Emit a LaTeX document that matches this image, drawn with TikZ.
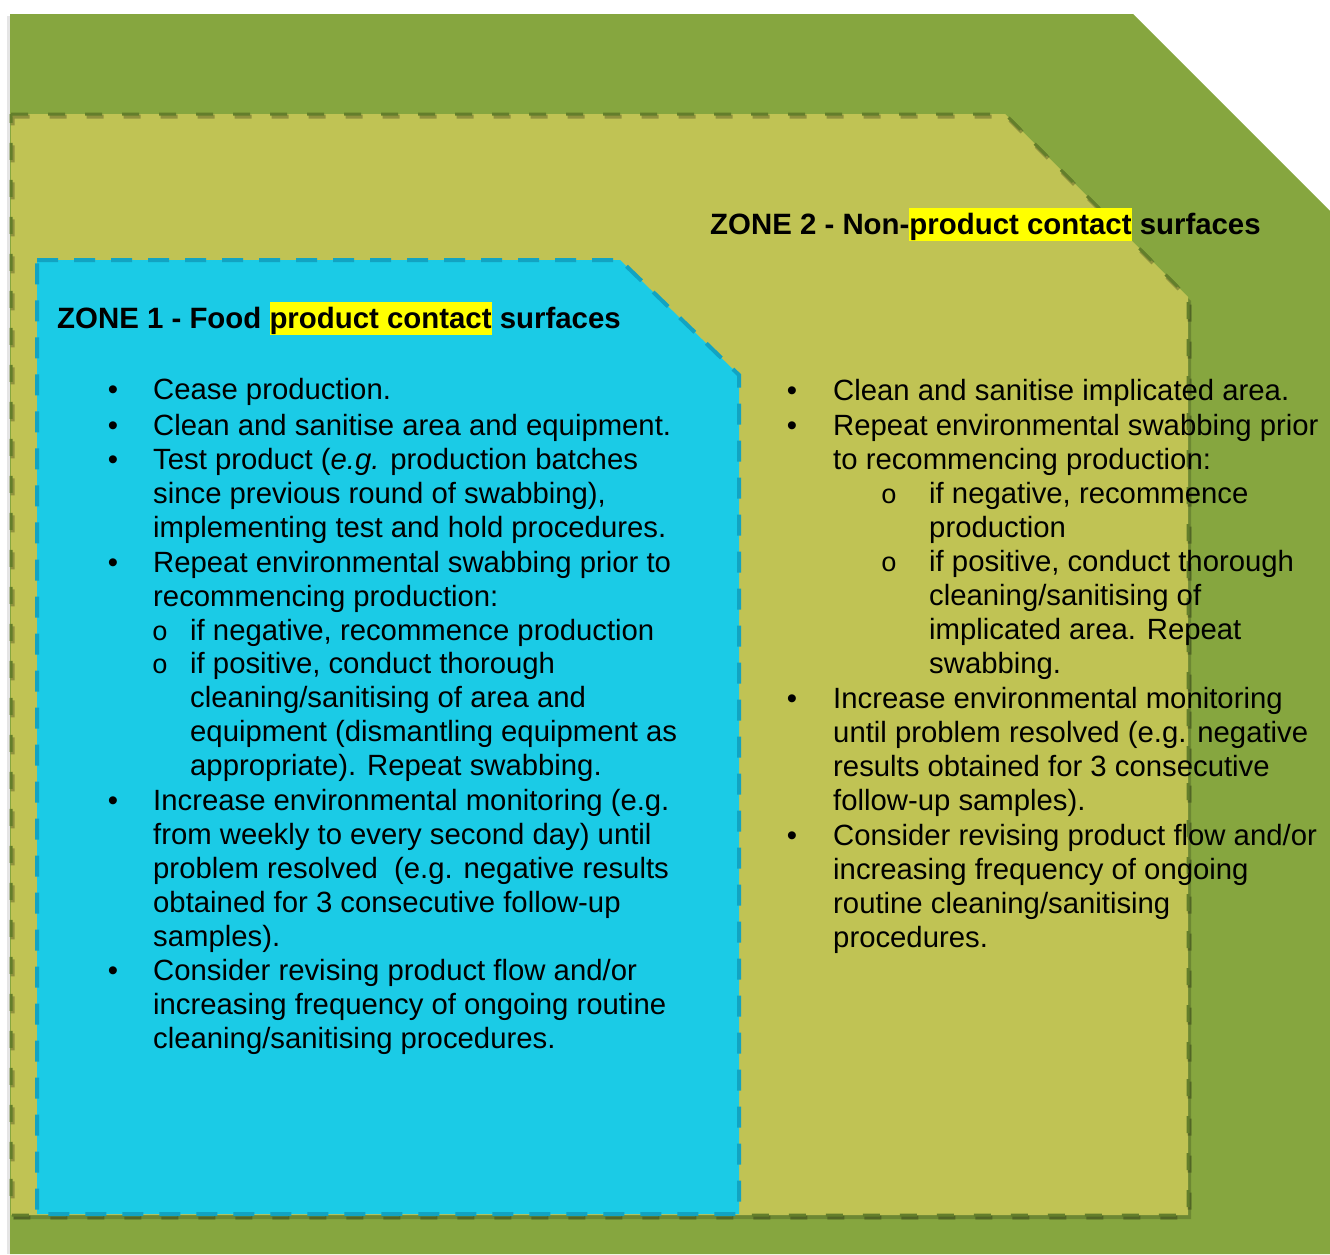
\documentclass[tikz,border=0pt]{standalone}
\usepackage{fontspec}
\setmainfont{Liberation Sans}
\newfontfamily\monobullet{Liberation Mono}

\definecolor{outergreen}{HTML}{86A63F}
\definecolor{zonetwofill}{HTML}{C0C354}
\definecolor{zonetwoline}{HTML}{637E2B}
\definecolor{zoneonefill}{HTML}{1BCBE6}
\definecolor{zoneoneline}{HTML}{12A3C2}
\definecolor{hlyellow}{HTML}{FFFF00}

% yellow text highlight with a fixed line-height band
\newcommand\hlt[1]{{\setlength{\fboxsep}{0pt}\colorbox{hlyellow}{\rule[-7pt]{0pt}{33pt}#1}}}
% stacked lines whose baseline is the first line
\newcommand\lines[1]{\begin{tabular}[t]{@{}l@{}}#1\end{tabular}}

\tikzset{
  bodyfont/.style={font=\fontsize{29.3}{34}\selectfont},
  txt/.style={bodyfont, anchor=base west, inner sep=0pt},
  ttl/.style={anchor=base west, inner sep=0pt, font=\fontsize{29.4}{34}\selectfont\bfseries},
  blt/.style={bodyfont, anchor=base, inner sep=0pt},
  subblt/.style={anchor=base, inner sep=0pt, font=\fontsize{27}{34}\selectfont\monobullet},
  zonetwoedge/.style={draw=zonetwoline, line width=3pt, dash pattern=on 17pt off 20pt},
  zoneoneedge/.style={draw=zoneoneline, line width=4pt, dash pattern=on 21pt off 16pt},
}

\begin{document}
\begin{tikzpicture}[x=1pt,y=-1pt]
\useasboundingbox (0,0) rectangle (1330,1254);

% outer band
\fill[black,opacity=.10] (7,16) rectangle (10,1254);
\fill[outergreen] (10,14) -- (1133,14) -- (1330,211) -- (1330,1254) -- (10,1254) -- cycle;

% zone 2 area with its drop shadow
\fill[black,opacity=.18] (14,118) -- (1007,118) -- (1191,301) -- (1191,1219) -- (14,1219) -- cycle;
\fill[zonetwofill] (11,114) -- (1005,114) -- (1188,297) -- (1188,1215) -- (11,1215) -- cycle;
\draw[zonetwoedge, draw=black, opacity=.25, line width=4pt, shift={(1.5pt,-2.5pt)}]
  (11,114) -- (1005,114) -- (1188,297) -- (1188,1215) -- (11,1215) -- cycle;
\draw[zonetwoedge] (11,114) -- (1005,114) -- (1188,297) -- (1188,1215) -- (11,1215) -- cycle;

% zone 1 area
\fill[zoneonefill] (37,260) -- (620,260) -- (739,375) -- (739,1214) -- (37,1214) -- cycle;
\draw[zoneoneedge] (37,260) -- (620,260) -- (739,375) -- (739,1214) -- (37,1214) -- cycle;

% titles
\node[ttl] (title2) at (710,234) {ZONE 2 - Non-\hlt{product contact} surfaces};
\node[ttl] (title1) at (57,328) {ZONE 1 - Food \hlt{product contact} surfaces};

% zone 1 list
\node[blt] (za1b) at (113,399) {\textbullet};
\node[txt] (za1) at (153,399) {Cease production.};
\node[blt] (za2b) at (113,435) {\textbullet};
\node[txt] (za2) at (153,435) {Clean and sanitise area and equipment.};
\node[blt] (za3b) at (113,469) {\textbullet};
\node[txt] (za3) at (153,469) {\lines{Test product (\textit{e.g.} production batches\\since previous round of swabbing),\\implementing test and hold procedures.}};
\node[blt] (za4b) at (113,572) {\textbullet};
\node[txt] (za4) at (153,572) {\lines{Repeat environmental swabbing prior to\\recommencing production:}};
\node[subblt] (za4ab) at (160,640) {o};
\node[txt] (za4a) at (190,640) {if negative, recommence production};
\node[subblt] (za4bb) at (160,673) {o};
\node[txt] (za4b) at (190,673) {\lines{if positive, conduct thorough\\cleaning/sanitising of area and\\equipment (dismantling equipment as\\appropriate). Repeat swabbing.}};
\node[blt] (za5b) at (113,810) {\textbullet};
\node[txt] (za5) at (153,810) {\lines{Increase environmental monitoring (e.g.\\from weekly to every second day) until\\problem resolved\ \ (e.g. negative results\\obtained for 3 consecutive follow-up\\samples).}};
\node[blt] (za6b) at (113,980) {\textbullet};
\node[txt] (za6) at (153,980) {\lines{Consider revising product flow and/or\\increasing frequency of ongoing routine\\cleaning/sanitising procedures.}};

% zone 2 list
\node[blt] (zb1b) at (792,400) {\textbullet};
\node[txt] (zb1) at (833,400) {Clean and sanitise implicated area.};
\node[blt] (zb2b) at (792,435) {\textbullet};
\node[txt] (zb2) at (833,435) {\lines{Repeat environmental swabbing prior\\to recommencing production:}};
\node[subblt] (zb2ab) at (889,503) {o};
\node[txt] (zb2a) at (929,503) {\lines{if negative, recommence\\production}};
\node[subblt] (zb2bb) at (889,571) {o};
\node[txt] (zb2b) at (929,571) {\lines{if positive, conduct thorough\\cleaning/sanitising of\\implicated area. Repeat\\swabbing.}};
\node[blt] (zb3b) at (792,708) {\textbullet};
\node[txt] (zb3) at (833,708) {\lines{Increase environmental monitoring\\until problem resolved (e.g. negative\\results obtained for 3 consecutive\\follow-up samples).}};
\node[blt] (zb4b) at (792,845) {\textbullet};
\node[txt] (zb4) at (833,845) {\lines{Consider revising product flow and/or\\increasing frequency of ongoing\\routine cleaning/sanitising\\procedures.}};
\end{tikzpicture}
\end{document}
